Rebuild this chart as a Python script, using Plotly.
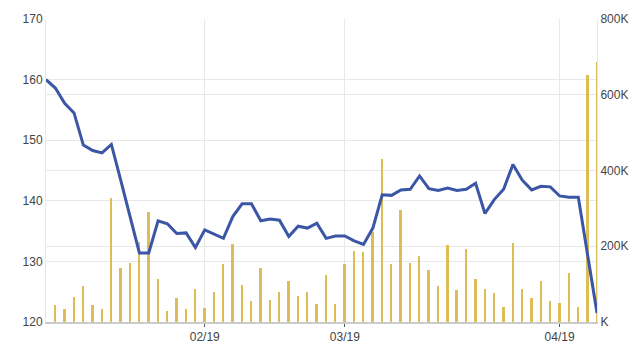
import plotly.graph_objects as go

# session index (one per trading point shown)
sessions = list(range(60))

price = [160.0, 158.6, 156.1, 154.5, 149.2, 148.3, 147.9, 149.3, 143.4, 137.4,
         131.4, 131.4, 136.7, 136.2, 134.6, 134.7, 132.3, 135.2, 134.5, 133.8,
         137.4, 139.5, 139.5, 136.7, 137.0, 136.8, 134.1, 135.8, 135.5, 136.3,
         133.8, 134.2, 134.2, 133.4, 132.8, 135.5, 141.0, 140.9, 141.8, 141.9,
         144.1, 142.0, 141.7, 142.1, 141.7, 141.9, 142.9, 137.9, 140.2, 141.9,
         146.0, 143.4, 141.8, 142.4, 142.3, 140.8, 140.6, 140.6, 131.0, 121.5]

volume_k = [None, 45, 34, 66, 95, 45, 34, 327, 142, 157,
            212, 290, 113, 30, 63, 34, 88, 37, 80, 152,
            206, 99, 55, 143, 58, 80, 109, 69, 80, 48,
            123, 48, 153, 188, 184, 238, 430, 152, 297, 157,
            174, 137, 95, 202, 84, 192, 113, 87, 77, 40,
            209, 87, 63, 109, 55, 51, 130, 40, 652, 687]

month_labels = ["02/19", "03/19", "04/19"]
month_first_session = [17, 32, 55]

price_ticks = [120, 130, 140, 150, 160, 170]
volume_ticks_k = [0, 200, 400, 600, 800]
volume_tick_text = ["K", "200K", "400K", "600K", "800K"]

volume = [v * 1000 if v is not None else None for v in volume_k]

fig = go.Figure()
fig.add_trace(go.Bar(x=sessions, y=volume, yaxis="y", width=0.2,
                     marker=dict(color="#DDBD58", line=dict(width=0)),
                     showlegend=False))
fig.add_trace(go.Scatter(x=sessions, y=price, yaxis="y2", mode="lines",
                         line=dict(color="#3B55A7", width=3),
                         showlegend=False))

grid = "#E8E8E8"
font = dict(family="Liberation Sans, Arial, sans-serif", size=12, color="#444444")

fig.update_layout(
    width=640, height=347, autosize=False,
    margin=dict(l=46, r=43, t=19, b=25, pad=0, autoexpand=False),
    paper_bgcolor="white", plot_bgcolor="white",
    font=font,
    bargap=0,
    xaxis=dict(range=[0, 59], tickvals=month_first_session, ticktext=month_labels,
               showgrid=True, gridcolor=grid, gridwidth=1, zeroline=False,
               showline=True, linecolor="#CCCCCC", linewidth=2,
               ticks="outside", ticklen=3, tickcolor="#555555", tickwidth=1,
               tickfont=font, automargin=False),
    yaxis=dict(side="right", range=[0, 800000],
               tickvals=[v * 1000 for v in volume_ticks_k], ticktext=volume_tick_text,
               showgrid=True, gridcolor=grid, zeroline=False,
               showline=True, linecolor=grid, ticks="", tickfont=font,
               automargin=False),
    yaxis2=dict(side="left", overlaying="y", range=[120, 170], tickvals=price_ticks,
                showgrid=True, gridcolor=grid, zeroline=False,
                showline=True, linecolor=grid, ticks="", tickfont=font,
                automargin=False),
)

fig.write_html("out.html", config={"displayModeBar": False})
